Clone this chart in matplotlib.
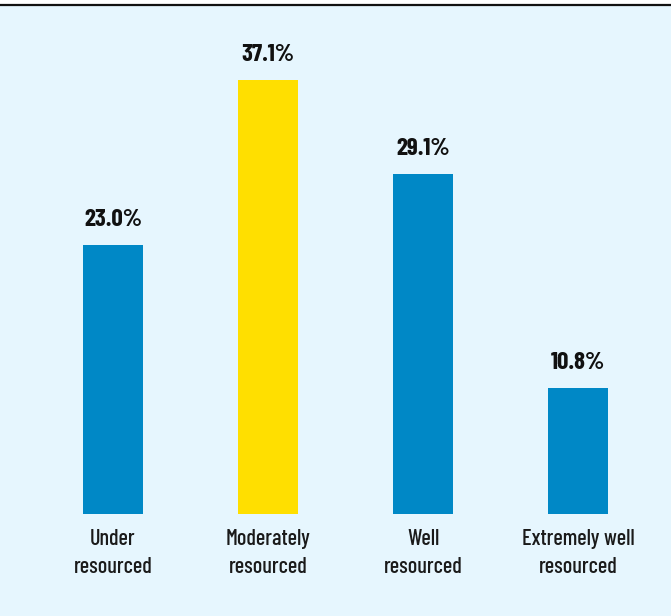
import matplotlib.pyplot as plt
from matplotlib.lines import Line2D

categories = ["Under\nresourced", "Moderately\nresourced", "Well\nresourced", "Extremely well\nresourced"]
values = [23.0, 37.1, 29.1, 10.8]
labels = ["23.0%", "37.1%", "29.1%", "10.8%"]
colors = ["#0088c6", "#ffdf00", "#0088c6", "#0088c6"]

W, H = 671, 616
fig = plt.figure(figsize=(W / 100, H / 100), dpi=100)
fig.patch.set_facecolor("white")

# light panel under the top rule
bg = fig.add_axes([0, 0, 1, (H - 6) / H])
bg.set_facecolor("#e6f6fe")
bg.set_xticks([])
bg.set_yticks([])
for s in bg.spines.values():
    s.set_visible(False)

fig.add_artist(Line2D([0, 1], [(H - 5) / H, (H - 5) / H], color="#111111", lw=1.6))

bottom_px = 514
top_px = 7
ax = fig.add_axes([0, (H - bottom_px) / H, 1, (bottom_px - top_px) / H])
ax.patch.set_alpha(0)
ax.set_xlim(-113 / 155, (W - 113) / 155)
ax.set_ylim(0, (bottom_px - top_px) / 11.7)
for s in ax.spines.values():
    s.set_visible(False)
ax.set_xticks([])
ax.set_yticks([])

font = ["Barlow Condensed", "DejaVu Sans"]
x = range(len(values))
ax.bar(x, values, width=60 / 155, color=colors)
for i, v in enumerate(values):
    ax.annotate(labels[i], (i, v), xytext=(0, 13.5), textcoords="offset points",
                ha="center", va="baseline", fontsize=18, fontweight="bold",
                family=font, color="#111111")
    ax.annotate(categories[i], (i, 0), xytext=(0, -10.5), textcoords="offset points",
                ha="center", va="top", fontsize=16, fontweight="medium", family=font,
                color="#1a1a1a", linespacing=1.5)

fig.savefig("out.png", dpi=100)
